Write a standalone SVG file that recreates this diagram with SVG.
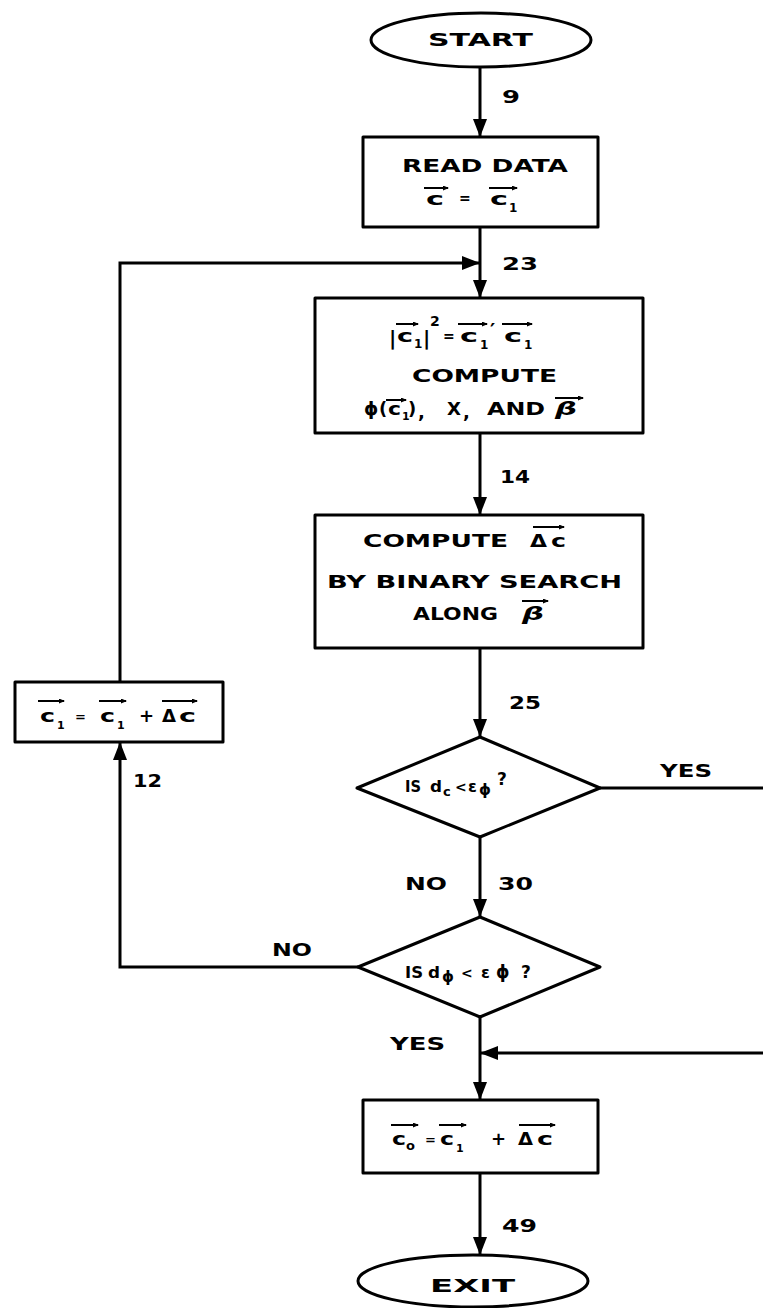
<svg xmlns="http://www.w3.org/2000/svg" width="763" height="1308" viewBox="0 0 763 1308">
<style>
.bg{fill:#fff}
.shape{fill:#fff;stroke:#000;stroke-width:3;stroke-linejoin:round}
.conn{fill:none;stroke:#000;stroke-width:3}
.vec{fill:none;stroke:#000;stroke-width:2}
text{font-family:"DejaVu Sans","Liberation Sans",sans-serif;font-weight:bold;fill:#000}
.t{font-size:18px}
.d{font-size:16px}
.s{font-size:12px}
.i{font-style:italic}
</style>
<defs>
<marker id="ah" markerUnits="userSpaceOnUse" markerWidth="18" markerHeight="14" refX="18" refY="7" orient="auto">
<path d="M0,0 L18,7 L0,14 Z" fill="#000"/>
</marker>
<marker id="va" markerUnits="userSpaceOnUse" markerWidth="6" markerHeight="5" refX="5" refY="2.5" orient="auto">
<path d="M0,0 L6,2.5 L0,5 Z" fill="#000"/>
</marker>
</defs>
<rect class="bg" x="0" y="0" width="763" height="1308"/>

<g id="connectors">
<line class="conn" x1="480" y1="67" x2="480" y2="137" marker-end="url(#ah)"/>
<line class="conn" x1="480" y1="227" x2="480" y2="298" marker-end="url(#ah)"/>
<polyline class="conn" points="120,682 120,263 480,263" marker-end="url(#ah)"/>
<line class="conn" x1="480" y1="433" x2="480" y2="515" marker-end="url(#ah)"/>
<line class="conn" x1="480" y1="648" x2="480" y2="737" marker-end="url(#ah)"/>
<line class="conn" x1="600" y1="788" x2="763" y2="788"/>
<line class="conn" x1="480" y1="837" x2="480" y2="917" marker-end="url(#ah)"/>
<polyline class="conn" points="358,967 120,967 120,742" marker-end="url(#ah)"/>
<line class="conn" x1="480" y1="1017" x2="480" y2="1100" marker-end="url(#ah)"/>
<line class="conn" x1="763" y1="1053" x2="480" y2="1053" marker-end="url(#ah)"/>
<line class="conn" x1="480" y1="1173" x2="480" y2="1255" marker-end="url(#ah)"/>
<text class="t" x="502" y="103" textLength="18" lengthAdjust="spacingAndGlyphs">9</text>
<text class="t" x="502" y="270" textLength="36" lengthAdjust="spacingAndGlyphs">23</text>
<text class="t" x="500" y="483" textLength="30" lengthAdjust="spacingAndGlyphs">14</text>
<text class="t" x="509" y="709" textLength="32" lengthAdjust="spacingAndGlyphs">25</text>
<text class="t" x="660" y="777" textLength="52" lengthAdjust="spacingAndGlyphs">YES</text>
<text class="t" x="405" y="890" textLength="42" lengthAdjust="spacingAndGlyphs">NO</text>
<text class="t" x="498" y="890" textLength="35" lengthAdjust="spacingAndGlyphs">30</text>
<text class="t" x="272" y="956" textLength="40" lengthAdjust="spacingAndGlyphs">NO</text>
<text class="t" x="133" y="787" textLength="29" lengthAdjust="spacingAndGlyphs">12</text>
<text class="t" x="390" y="1050" textLength="55" lengthAdjust="spacingAndGlyphs">YES</text>
<text class="t" x="502" y="1232" textLength="35" lengthAdjust="spacingAndGlyphs">49</text>
</g>

<g id="start">
<ellipse class="shape" cx="481" cy="40" rx="110" ry="27"/>
<text class="t" x="428" y="46" textLength="105" lengthAdjust="spacingAndGlyphs">START</text>
</g>

<g id="read-data">
<rect class="shape" x="363" y="137" width="235" height="90"/>
<text class="t" x="402" y="172" textLength="166" lengthAdjust="spacingAndGlyphs">READ DATA</text>
<text class="t" x="426" y="205" textLength="18" lengthAdjust="spacingAndGlyphs">c</text>
<line class="vec" x1="424" y1="188" x2="448" y2="188" marker-end="url(#va)"/>
<text x="459" y="203" style="font-size:14px">=</text>
<text class="t" x="490" y="205" textLength="18" lengthAdjust="spacingAndGlyphs">c</text>
<text class="s" x="509" y="212">1</text>
<line class="vec" x1="489" y1="188" x2="517" y2="188" marker-end="url(#va)"/>
</g>

<g id="compute">
<rect class="shape" x="315" y="298" width="328" height="135"/>
<text x="389" y="345" style="font-size:20px">|</text>
<text class="t" x="397" y="342" textLength="16" lengthAdjust="spacingAndGlyphs">c</text>
<text class="s" x="414" y="348">1</text>
<line class="vec" x1="396" y1="324" x2="418" y2="324" marker-end="url(#va)"/>
<text x="423" y="345" style="font-size:20px">|</text>
<text x="430" y="326" style="font-size:14px">2</text>
<text x="443" y="341" style="font-size:14px">=</text>
<text class="t" x="460" y="342" textLength="18" lengthAdjust="spacingAndGlyphs">c</text>
<text class="s" x="480" y="349">1</text>
<line class="vec" x1="458" y1="324" x2="487" y2="324" marker-end="url(#va)"/>
<text x="490" y="337" style="font-size:20px">′</text>
<text class="t" x="504" y="342" textLength="18" lengthAdjust="spacingAndGlyphs">c</text>
<text class="s" x="524" y="349">1</text>
<line class="vec" x1="502" y1="324" x2="532" y2="324" marker-end="url(#va)"/>
<text class="t" x="412" y="382" textLength="145" lengthAdjust="spacingAndGlyphs">COMPUTE</text>
<text class="t" x="364" y="415">ϕ</text>
<text class="t" x="379" y="415">(</text>
<text class="t" x="388" y="415" textLength="13" lengthAdjust="spacingAndGlyphs">c</text>
<text x="402" y="420" style="font-size:11px">1</text>
<line class="vec" x1="386" y1="400" x2="406" y2="400" marker-end="url(#va)"/>
<text class="t" x="408" y="415">)</text>
<text class="t" x="418" y="418">,</text>
<text class="t" x="447" y="415" textLength="14" lengthAdjust="spacingAndGlyphs">X</text>
<text class="t" x="463" y="418">,</text>
<text class="t" x="487" y="415" textLength="58" lengthAdjust="spacingAndGlyphs">AND</text>
<text class="t i" x="555" y="415" textLength="22" lengthAdjust="spacingAndGlyphs">β</text>
<line class="vec" x1="555" y1="398" x2="583" y2="398" marker-end="url(#va)"/>
</g>

<g id="compute-delta">
<rect class="shape" x="315" y="515" width="328" height="133"/>
<text class="t" x="363" y="547" textLength="145" lengthAdjust="spacingAndGlyphs">COMPUTE</text>
<text class="t" x="530" y="547" textLength="17" lengthAdjust="spacingAndGlyphs">Δ</text>
<text class="t" x="551" y="547" textLength="15" lengthAdjust="spacingAndGlyphs">c</text>
<line class="vec" x1="533" y1="527" x2="564" y2="527" marker-end="url(#va)"/>
<text class="t" x="327" y="588" textLength="295" lengthAdjust="spacingAndGlyphs">BY BINARY SEARCH</text>
<text class="t" x="413" y="620" textLength="85" lengthAdjust="spacingAndGlyphs">ALONG</text>
<text class="t i" x="522" y="620" textLength="22" lengthAdjust="spacingAndGlyphs">β</text>
<line class="vec" x1="522" y1="601" x2="548" y2="601" marker-end="url(#va)"/>
</g>

<g id="update">
<rect class="shape" x="15" y="682" width="208" height="60"/>
<text class="t" x="40" y="722" textLength="15" lengthAdjust="spacingAndGlyphs">c</text>
<text x="57" y="729" style="font-size:11px">1</text>
<line class="vec" x1="38" y1="701" x2="64" y2="701" marker-end="url(#va)"/>
<text x="75" y="721" style="font-size:13px">=</text>
<text class="t" x="100" y="722" textLength="15" lengthAdjust="spacingAndGlyphs">c</text>
<text x="117" y="729" style="font-size:11px">1</text>
<line class="vec" x1="99" y1="701" x2="126" y2="701" marker-end="url(#va)"/>
<text class="t" x="139" y="722">+</text>
<text class="t" x="162" y="722" textLength="14" lengthAdjust="spacingAndGlyphs">Δ</text>
<text class="t" x="179" y="722" textLength="17" lengthAdjust="spacingAndGlyphs">c</text>
<line class="vec" x1="162" y1="701" x2="197" y2="701" marker-end="url(#va)"/>
</g>

<g id="test-dc">
<polygon class="shape" points="480,737 600,788 480,837 357,788"/>
<text class="d" x="405" y="792" textLength="16" lengthAdjust="spacingAndGlyphs">IS</text>
<text class="d" x="430" y="792" textLength="12" lengthAdjust="spacingAndGlyphs">d</text>
<text x="443" y="796" style="font-size:13px">c</text>
<text x="455" y="792" style="font-size:14px">&lt;</text>
<text x="468" y="792" style="font-size:16px">ε</text>
<text x="479" y="795" style="font-size:15px">ϕ</text>
<text x="497" y="785" style="font-size:17px">?</text>
</g>

<g id="test-dphi">
<polygon class="shape" points="480,917 600,967 480,1017 358,967"/>
<text class="d" x="405" y="978" textLength="18" lengthAdjust="spacingAndGlyphs">IS</text>
<text class="d" x="428" y="978" textLength="12" lengthAdjust="spacingAndGlyphs">d</text>
<text x="442" y="982" style="font-size:15px">ϕ</text>
<text x="461" y="978" style="font-size:14px">&lt;</text>
<text x="481" y="978" style="font-size:16px">ε</text>
<text x="496" y="978" style="font-size:17px">ϕ</text>
<text x="521" y="978" style="font-size:17px">?</text>
</g>

<g id="final">
<rect class="shape" x="363" y="1100" width="235" height="73"/>
<text class="t" x="392" y="1145" textLength="14" lengthAdjust="spacingAndGlyphs">c</text>
<text x="406" y="1150" style="font-size:13px">o</text>
<line class="vec" x1="391" y1="1125" x2="418" y2="1125" marker-end="url(#va)"/>
<text x="425" y="1144" style="font-size:13px">=</text>
<text class="t" x="440" y="1145" textLength="14" lengthAdjust="spacingAndGlyphs">c</text>
<text x="456" y="1152" style="font-size:11px">1</text>
<line class="vec" x1="439" y1="1125" x2="466" y2="1125" marker-end="url(#va)"/>
<text class="t" x="491" y="1145">+</text>
<text class="t" x="518" y="1145" textLength="15" lengthAdjust="spacingAndGlyphs">Δ</text>
<text class="t" x="537" y="1145" textLength="16" lengthAdjust="spacingAndGlyphs">c</text>
<line class="vec" x1="519" y1="1125" x2="555" y2="1125" marker-end="url(#va)"/>
</g>

<g id="exit">
<ellipse class="shape" cx="473" cy="1281" rx="115" ry="26"/>
<text class="t" x="430" y="1292" textLength="85" lengthAdjust="spacingAndGlyphs">EXIT</text>
</g>
</svg>
